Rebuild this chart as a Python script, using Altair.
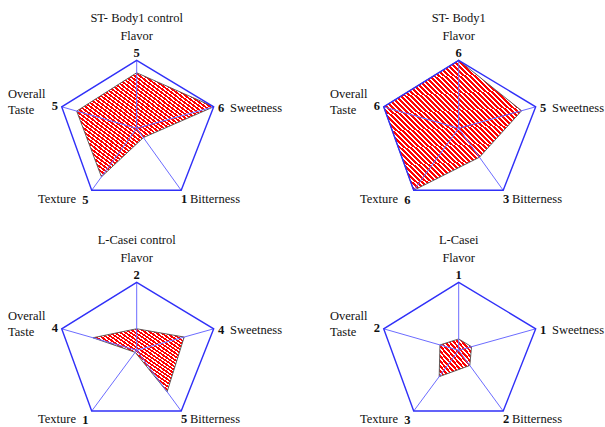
import altair as alt
import pandas as pd

PANELS = ["ST- Body1 control", "ST- Body1", "L-Casei control", "L-Casei"]
ATTRIBUTES = ["Flavor", "Sweetness", "Bitterness", "Texture", "Overall Taste"]

# scores plotted on each spoke (0-6 scale)
st_control_scores = [4.9, 6.0, 0.9, 4.7, 4.8]
st_scores = [6.0, 4.9, 2.8, 6.0, 6.0]
lc_control_scores = [1.9, 3.7, 4.1, 0.2, 3.5]
lc_scores = [1.0, 1.0, 1.5, 2.6, 1.5]

# figures printed beside the attribute names
st_control_marks = [5, 6, 1, 5, 5]
st_marks = [6, 5, 3, 6, 6]
lc_control_marks = [2, 4, 5, 1, 4]
lc_marks = [1, 1, 2, 3, 2]

SCALE_MAX = 6.0

# end point of each spoke at SCALE_MAX, in pixels from the centre (x right, y up)
SPOKE_X = [0.0, 77.0, 44.5, -45.0, -75.0]
SPOKE_Y = [68.0, 21.5, -62.0, -62.0, 21.5]

# panel geometry (1 data unit = 1 pixel)
W, H = 283, 205
CX, CY = 136.7, 128.3
X_SCALE = alt.Scale(domain=[-CX, W - CX], nice=False, zero=False)
Y_SCALE = alt.Scale(domain=[CY - H, CY], nice=False, zero=False)

FONT = "Liberation Serif"
FONT_SIZE = 12.5
OUTLINE_BLUE = "#3030f8"
SPOKE_BLUE = "#6c6cff"
STRIPE_RED = "#ff0000"
STRIPE_PERIOD = 5.0  # horizontal pixels per red/white pair
RED_SHARE = 0.6


def stripe_fill(xs, ys):
    """Red/white 45-degree stripes as a hard-stop linear gradient.

    Vega paints gradients on a square that covers the shape's bounding box,
    so the stripe count follows the longer side of that box.
    """
    side = max(max(xs) - min(xs), max(ys) - min(ys))
    n = max(2, int(round(2 * side / STRIPE_PERIOD)))
    stops = []
    for i in range(n):
        a = i / n
        b = (i + RED_SHARE) / n
        c = (i + 1) / n
        stops += [
            {"offset": a, "color": STRIPE_RED},
            {"offset": b, "color": STRIPE_RED},
            {"offset": b, "color": "#ffffff"},
            {"offset": c, "color": "#ffffff"},
        ]
    return {"gradient": "linear", "x1": 0, "y1": 1, "x2": 1, "y2": 0,
            "stops": stops}


def label_rows(title, marks, low):
    return [
        (title, 0, 110.6, "center", "normal"),
        ("Flavor", 0, 92.6, "center", "normal"),
        (str(marks[0]), 0, 75.0, "center", "bold"),
        (str(marks[1]), 81.3, 20.6, "left", "bold"),
        ("Sweetness", 93.3, 20.6, "left", "normal"),
        (str(marks[2]), 44.3, low, "left", "bold"),
        ("Bitterness", 53.3, low, "left", "normal"),
        (str(marks[3]), -54.5, low - 1.0, "left", "bold"),
        ("Texture", -60.7, low, "right", "normal"),
        (str(marks[4]), -78.7, 22.8, "right", "bold"),
        ("Overall", -128.7, 34.3, "left", "normal"),
        ("Taste", -128.7, 18.3, "left", "normal"),
    ]


def xy(field):
    return alt.X(field, type="quantitative", scale=X_SCALE, axis=None)


def yy(field):
    return alt.Y(field, type="quantitative", scale=Y_SCALE, axis=None)


def radar(title, scores, marks, bottom_row=False):
    # the lower pentagons sit slightly flatter than the upper ones
    spoke_y = [v * (0.98 if bottom_row and v < 0 else 1.0) for v in SPOKE_Y]
    low = -68.5 if bottom_row else -70.7

    pts = pd.DataFrame({
        "attribute": ATTRIBUTES,
        "i": range(len(ATTRIBUTES)),
        "x": [s / SCALE_MAX * dx for s, dx in zip(scores, SPOKE_X)],
        "y": [s / SCALE_MAX * dy for s, dy in zip(scores, spoke_y)],
    })
    grid = pd.DataFrame({
        "attribute": ATTRIBUTES,
        "i": range(len(ATTRIBUTES)),
        "x0": 0.0, "y0": 0.0,
        "x": SPOKE_X, "y": spoke_y,
    })

    area = alt.Chart(pts).mark_line(
        interpolate="linear-closed",
        fill=stripe_fill(list(pts["x"]), list(pts["y"])),
        stroke="#505050", strokeWidth=1, strokeOpacity=0.9,
    ).encode(x=xy("x"), y=yy("y"), order=alt.Order("i:Q"))

    spokes = alt.Chart(grid).mark_rule(
        color=SPOKE_BLUE, strokeWidth=1
    ).encode(x=xy("x0"), y=yy("y0"), x2="x:Q", y2="y:Q")

    outline = alt.Chart(grid).mark_line(
        interpolate="linear-closed", color=OUTLINE_BLUE, strokeWidth=1.4
    ).encode(x=xy("x"), y=yy("y"), order=alt.Order("i:Q"))

    labels = pd.DataFrame(label_rows(title, marks, low),
                          columns=["text", "x", "y", "align", "weight"])
    texts = []
    for (align, weight), grp in labels.groupby(["align", "weight"]):
        texts.append(
            alt.Chart(grp).mark_text(
                align=align, baseline="middle", font=FONT,
                fontSize=FONT_SIZE, fontWeight=weight, color="#111111",
            ).encode(x=xy("x"), y=yy("y"), text="text:N")
        )

    return alt.layer(area, spokes, outline, *texts).properties(width=W, height=H)


top = alt.hconcat(
    radar(PANELS[0], st_control_scores, st_control_marks),
    radar(PANELS[1], st_scores, st_marks),
    spacing=39,
)
bottom = alt.hconcat(
    radar(PANELS[2], lc_control_scores, lc_control_marks, bottom_row=True),
    radar(PANELS[3], lc_scores, lc_marks, bottom_row=True),
    spacing=39,
)

chart = alt.vconcat(top, bottom, spacing=15).properties(
    padding=0, background="white"
).configure_view(stroke=None)

chart.save("out.html", embed_options={"renderer": "svg", "actions": False})
